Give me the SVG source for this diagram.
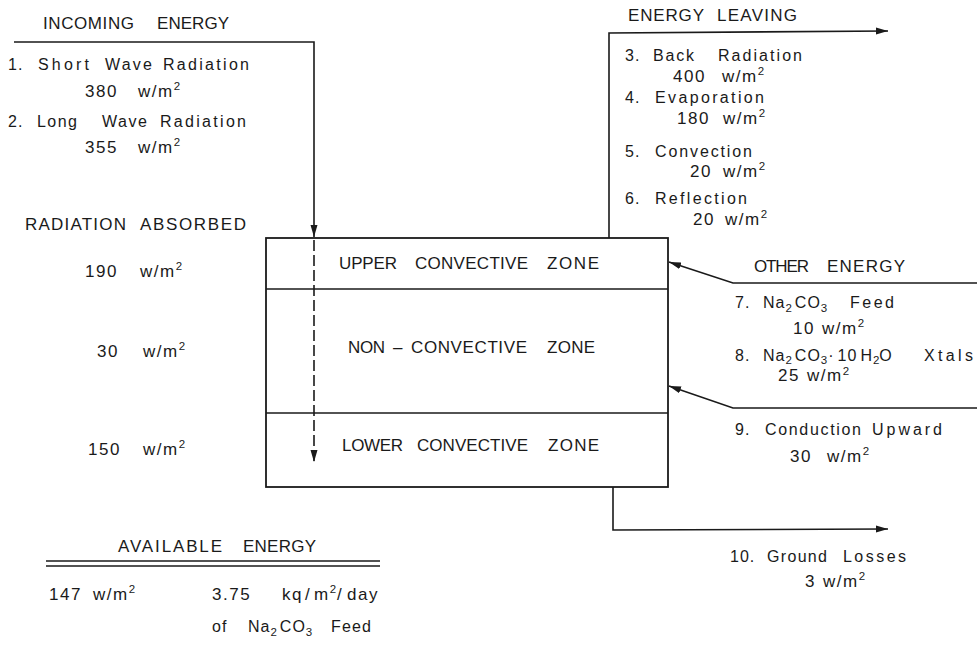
<svg xmlns="http://www.w3.org/2000/svg" width="977" height="646" viewBox="0 0 977 646">
<style>
text{font-family:"Liberation Sans","DejaVu Sans",Arial,sans-serif;fill:#1a1a1a;font-size:16px;letter-spacing:1px}
.h{font-size:17px;letter-spacing:1px}
.n{font-size:17px;letter-spacing:1.5px}
.sup{font-size:11.5px;letter-spacing:0}
.sub{font-size:11.5px;letter-spacing:0}
.ln{fill:none;stroke:#1a1a1a;stroke-width:1.6}
.box{fill:#fff;stroke:#1a1a1a;stroke-width:1.8}
</style>
<defs>
<marker id="ah" viewBox="0 0 12 8" refX="12" refY="4" markerWidth="12" markerHeight="8" markerUnits="userSpaceOnUse" orient="auto">
<path d="M0,0.5 L12,4 L0,7.5 Z" fill="#1a1a1a"/>
</marker>
</defs>
<g id="pond">
<rect class="box" x="266" y="238" width="402" height="249"/>
<line class="ln" x1="266" y1="289" x2="668" y2="289"/>
<line class="ln" x1="266" y1="413" x2="668" y2="413"/>
<text class="h" y="269"><tspan x="339" textLength="59" lengthAdjust="spacing">UPPER</tspan><tspan x="415" textLength="114" lengthAdjust="spacing">CONVECTIVE</tspan><tspan x="547" textLength="53" lengthAdjust="spacing">ZONE</tspan></text>
<text class="h" y="353"><tspan x="348" textLength="38" lengthAdjust="spacing">NON</tspan><tspan x="393">–</tspan><tspan x="411" textLength="117" lengthAdjust="spacing">CONVECTIVE</tspan><tspan x="547" textLength="49" lengthAdjust="spacing">ZONE</tspan></text>
<text class="h" y="451"><tspan x="342" textLength="62" lengthAdjust="spacing">LOWER</tspan><tspan x="417" textLength="112" lengthAdjust="spacing">CONVECTIVE</tspan><tspan x="548" textLength="52" lengthAdjust="spacing">ZONE</tspan></text>
</g>
<g id="connectors">
<path class="ln" d="M14,42 L314,42 L314,237" marker-end="url(#ah)"/>
<path class="ln" d="M314,240 L314,462" stroke-dasharray="11 4" marker-end="url(#ah)"/>
<path class="ln" d="M609,238 L609,33 L888,31" marker-end="url(#ah)"/>
<path class="ln" d="M977,283 L733,283 L669,262" marker-end="url(#ah)"/>
<path class="ln" d="M977,408 L733,408 L669,386" marker-end="url(#ah)"/>
<path class="ln" d="M613,487 L613,530 L888,529" marker-end="url(#ah)"/>
<line class="ln" x1="46" y1="561" x2="380" y2="561"/>
<line class="ln" x1="46" y1="566" x2="380" y2="566" stroke-width="1.2"/>
</g>
<g id="incoming">
<text class="h" y="29"><tspan x="43" textLength="92" lengthAdjust="spacing">INCOMING</tspan><tspan x="157" textLength="73" lengthAdjust="spacing">ENERGY</tspan></text>
<text y="70"><tspan x="8">1.</tspan><tspan x="38" textLength="52" lengthAdjust="spacing">Short</tspan><tspan x="105" textLength="48" lengthAdjust="spacing">Wave</tspan><tspan x="163" textLength="87" lengthAdjust="spacing">Radiation</tspan></text>
<text class="n" y="97"><tspan x="85">380</tspan><tspan x="138">w/m</tspan><tspan class="sup" dy="-7">2</tspan></text>
<text y="127"><tspan x="8">2.</tspan><tspan x="37" textLength="41" lengthAdjust="spacing">Long</tspan><tspan x="102" textLength="46" lengthAdjust="spacing">Wave</tspan><tspan x="160" textLength="87" lengthAdjust="spacing">Radiation</tspan></text>
<text class="n" y="153"><tspan x="85">355</tspan><tspan x="138">w/m</tspan><tspan class="sup" dy="-7">2</tspan></text>
</g>
<g id="absorbed">
<text class="h" y="230"><tspan x="25" textLength="102" lengthAdjust="spacing">RADIATION</tspan><tspan x="140" textLength="107" lengthAdjust="spacing">ABSORBED</tspan></text>
<text class="n" y="277"><tspan x="85">190</tspan><tspan x="140">w/m</tspan><tspan class="sup" dy="-7">2</tspan></text>
<text class="n" y="357"><tspan x="97">30</tspan><tspan x="143">w/m</tspan><tspan class="sup" dy="-7">2</tspan></text>
<text class="n" y="455"><tspan x="88">150</tspan><tspan x="143">w/m</tspan><tspan class="sup" dy="-7">2</tspan></text>
</g>
<g id="leaving">
<text class="h" y="21"><tspan x="628" textLength="77" lengthAdjust="spacing">ENERGY</tspan><tspan x="717" textLength="81" lengthAdjust="spacing">LEAVING</tspan></text>
<text y="61"><tspan x="625">3.</tspan><tspan x="653" textLength="42" lengthAdjust="spacing">Back</tspan><tspan x="718" textLength="85" lengthAdjust="spacing">Radiation</tspan></text>
<text class="n" y="82"><tspan x="673">400</tspan><tspan x="722">w/m</tspan><tspan class="sup" dy="-7">2</tspan></text>
<text y="103"><tspan x="625">4.</tspan><tspan x="655" textLength="110" lengthAdjust="spacing">Evaporation</tspan></text>
<text class="n" y="124"><tspan x="677">180</tspan><tspan x="723">w/m</tspan><tspan class="sup" dy="-7">2</tspan></text>
<text y="157"><tspan x="625">5.</tspan><tspan x="655" textLength="98" lengthAdjust="spacing">Convection</tspan></text>
<text class="n" y="177"><tspan x="690">20</tspan><tspan x="723">w/m</tspan><tspan class="sup" dy="-7">2</tspan></text>
<text y="204"><tspan x="625">6.</tspan><tspan x="655" textLength="93" lengthAdjust="spacing">Reflection</tspan></text>
<text class="n" y="225"><tspan x="693">20</tspan><tspan x="725">w/m</tspan><tspan class="sup" dy="-7">2</tspan></text>
</g>
<g id="other">
<text class="h" y="272"><tspan x="754" textLength="56" lengthAdjust="spacing">OTHER</tspan><tspan x="827" textLength="79" lengthAdjust="spacing">ENERGY</tspan></text>
<text y="308"><tspan x="735">7.</tspan><tspan x="763">Na</tspan><tspan class="sub" dy="4">2</tspan><tspan dx="3" dy="-4">CO</tspan><tspan class="sub" dy="4">3</tspan><tspan x="850" dy="-4" textLength="45" lengthAdjust="spacing">Feed</tspan></text>
<text class="n" y="334"><tspan x="793">10</tspan><tspan x="822">w/m</tspan><tspan class="sup" dy="-7">2</tspan></text>
<text y="361"><tspan x="735">8.</tspan><tspan x="763">Na</tspan><tspan class="sub" dy="3">2</tspan><tspan dx="3" dy="-3">CO</tspan><tspan class="sub" dy="3">3</tspan><tspan dx="1" dy="-3">·</tspan><tspan dx="3">10</tspan><tspan dx="3">H</tspan><tspan class="sub" dy="3">2</tspan><tspan dy="-3">O</tspan><tspan x="924" textLength="50" lengthAdjust="spacing">Xtals</tspan></text>
<text class="n" y="381"><tspan x="778">25</tspan><tspan x="807">w/m</tspan><tspan class="sup" dy="-6">2</tspan></text>
<text y="435"><tspan x="735">9.</tspan><tspan x="765" textLength="97" lengthAdjust="spacing">Conduction</tspan><tspan x="872" textLength="71" lengthAdjust="spacing">Upward</tspan></text>
<text class="n" y="462"><tspan x="790">30</tspan><tspan x="827">w/m</tspan><tspan class="sup" dy="-7">2</tspan></text>
</g>
<g id="ground">
<text y="562"><tspan x="730">10.</tspan><tspan x="767" textLength="61" lengthAdjust="spacing">Ground</tspan><tspan x="843" textLength="64" lengthAdjust="spacing">Losses</tspan></text>
<text class="n" y="587"><tspan x="805">3</tspan><tspan x="823">w/m</tspan><tspan class="sup" dy="-7">2</tspan></text>
</g>
<g id="available">
<text class="h" y="552"><tspan x="118" textLength="105" lengthAdjust="spacing">AVAILABLE</tspan><tspan x="243" textLength="74" lengthAdjust="spacing">ENERGY</tspan></text>
<text class="n" y="600"><tspan x="49">147</tspan><tspan x="93">w/m</tspan><tspan class="sup" dy="-7">2</tspan></text>
<text class="n" y="600"><tspan x="212">3.75</tspan><tspan x="282">kq</tspan><tspan x="305">/</tspan><tspan x="314">m</tspan><tspan class="sup" dy="-7">2</tspan><tspan x="337" dy="7">/</tspan><tspan x="347">day</tspan></text>
<text y="632"><tspan x="212">of</tspan><tspan x="248">Na</tspan><tspan class="sub" dy="4">2</tspan><tspan dx="3" dy="-4">CO</tspan><tspan class="sub" dy="4">3</tspan><tspan x="331" dy="-4" textLength="41" lengthAdjust="spacing">Feed</tspan></text>
</g>
</svg>
